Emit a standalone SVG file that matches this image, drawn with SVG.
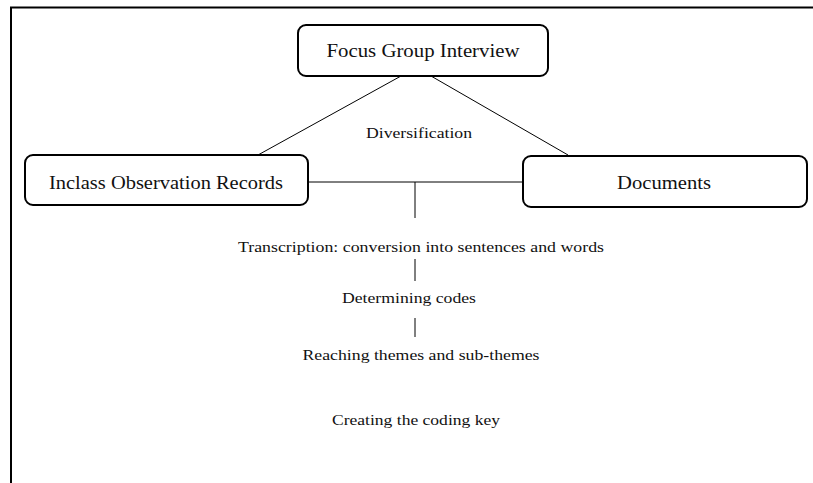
<svg xmlns="http://www.w3.org/2000/svg" width="813" height="483" viewBox="0 0 813 483">
<style>
.box{fill:#fff;stroke:#000;stroke-width:2}
.frame{fill:none;stroke:#000;stroke-width:2}
.conn{fill:none;stroke:#000;stroke-width:1}
text{font-family:"Liberation Serif","Times New Roman",serif;fill:#111;text-anchor:middle}
.big{font-size:18px}
.small{font-size:15px}
</style>
<rect width="813" height="483" fill="#fff"/>
<g id="frame"><path class="frame" d="M11,483 V7.5 H813"/></g>
<g id="connectors">
<line class="conn" x1="401" y1="76" x2="258" y2="155"/>
<line class="conn" x1="431" y1="76" x2="568" y2="155"/>
<line class="conn" x1="308" y1="182" x2="523" y2="182"/>
<line class="conn" x1="415" y1="182" x2="415" y2="218"/>
<line class="conn" x1="415" y1="259" x2="415" y2="281"/>
<line class="conn" x1="415" y1="318" x2="415" y2="337"/>
</g>
<g id="focus">
<rect class="box" x="298" y="25" width="250" height="51" rx="8"/>
<text class="big" x="423" y="57" textLength="193" lengthAdjust="spacingAndGlyphs">Focus Group Interview</text>
</g>
<g id="diversification">
<text class="small" x="419" y="138" textLength="106" lengthAdjust="spacingAndGlyphs">Diversification</text>
</g>
<g id="inclass">
<rect class="box" x="25" y="155" width="283" height="50" rx="8"/>
<text class="big" x="166" y="189" textLength="234" lengthAdjust="spacingAndGlyphs">Inclass Observation Records</text>
</g>
<g id="documents">
<rect class="box" x="523" y="156" width="284" height="51" rx="8"/>
<text class="big" x="664" y="189" textLength="94" lengthAdjust="spacingAndGlyphs">Documents</text>
</g>
<g id="transcription">
<text class="small" x="421" y="252" textLength="366" lengthAdjust="spacingAndGlyphs">Transcription: conversion into sentences and words</text>
</g>
<g id="codes">
<text class="small" x="409" y="303" textLength="134" lengthAdjust="spacingAndGlyphs">Determining codes</text>
</g>
<g id="themes">
<text class="small" x="421" y="360" textLength="237" lengthAdjust="spacingAndGlyphs">Reaching themes and sub-themes</text>
</g>
<g id="key">
<text class="small" x="416" y="425" textLength="168" lengthAdjust="spacingAndGlyphs">Creating the coding key</text>
</g>
</svg>
